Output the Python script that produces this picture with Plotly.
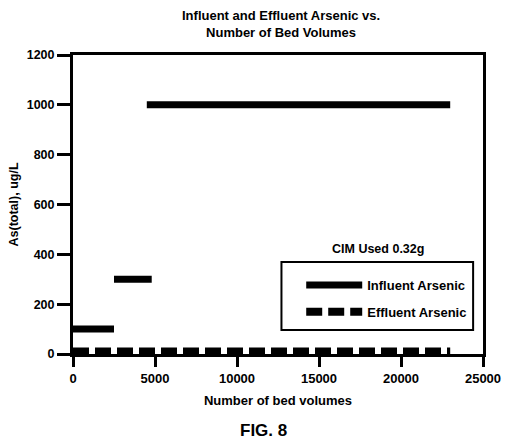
import plotly.graph_objects as go

# Data
influent_x = [0, 2500, None, 2500, 4800, None, 4500, 23000]
influent_y = [100, 100, None, 300, 300, None, 1000, 1000]
effluent_x = [0, 23000]
effluent_y = [10, 10]

title_lines = ["Influent and Effluent Arsenic vs.", "Number of Bed Volumes"]
x_ticks = [0, 5000, 10000, 15000, 20000, 25000]
x_ticktext = ["0", "5000", "10000", "15000", "20000", "25000"]
y_ticks = [0, 200, 400, 600, 800, 1000, 1200]

FONT = "Liberation Sans, Arial, sans-serif"

W, H = 513, 446
l, r, t, b = 72, 26, 55, 92
pw, ph = W - l - r, H - t - b
def px(xp):
    return (xp - l) / pw
def py(yp):
    return (H - b - yp) / ph

fig = go.Figure()
fig.add_trace(go.Scatter(x=influent_x, y=influent_y, mode="lines",
                         name="Influent Arsenic", legendgroup="a",
                         line=dict(color="black", width=7)))
fig.add_trace(go.Scatter(x=effluent_x, y=effluent_y, mode="lines",
                         name="Effluent Arsenic", legendgroup="b",
                         line=dict(color="black", width=8, dash="16px,6px")))

fig.update_layout(
    width=W, height=H,
    margin=dict(l=l, r=r, t=t, b=b),
    paper_bgcolor="white", plot_bgcolor="white",
    font=dict(family=FONT, color="black", size=12, weight="bold"),
    showlegend=True,
    legend=dict(x=px(303), y=py(270), xanchor="left", yanchor="top",
                borderwidth=0, bgcolor="rgba(0,0,0,0)",
                font=dict(size=13, weight="bold"),
                tracegroupgap=7, itemwidth=56),
    shapes=[dict(type="rect", xref="paper", yref="paper",
                 x0=px(283), x1=px(477), y0=py(330), y1=py(262),
                 line=dict(color="black", width=2))],
    annotations=[
        dict(text="<br>".join(title_lines), x=px(283), y=py(24), xref="paper", yref="paper",
             yanchor="middle", xanchor="center",
             showarrow=False, font=dict(size=13, weight="bold")),
        dict(text="CIM Used 0.32g", x=px(381), y=py(249), xref="paper", yref="paper",
             yanchor="middle", xanchor="center",
             showarrow=False, font=dict(size=12.5, weight="bold")),
        dict(text="FIG. 8", x=px(265), y=py(430), xref="paper", yref="paper",
             yanchor="middle", xanchor="center",
             showarrow=False, font=dict(size=17, weight="bold")),
    ],
)

fig.update_xaxes(range=[0, 25000], tickvals=x_ticks, ticktext=x_ticktext,
                 ticks="outside", ticklen=10,
                 tickwidth=3, tickcolor="black", showline=True, linewidth=3,
                 linecolor="black", mirror=True, showgrid=False, zeroline=False,
                 title=dict(text="Number of bed volumes", standoff=12,
                            font=dict(size=13, weight="bold")),
                 tickfont=dict(size=13, weight="bold"))
fig.update_yaxes(range=[0, 1200], tickvals=y_ticks, ticks="outside", ticklen=13,
                 tickwidth=3, tickcolor="black", showline=True, linewidth=3,
                 linecolor="black", mirror=True, showgrid=False, zeroline=False,
                 title=dict(text="As(total), ug/L", standoff=6,
                            font=dict(size=12.5, weight="bold")),
                 tickfont=dict(size=12.5, weight="bold"))

fig.write_html("out.html")
